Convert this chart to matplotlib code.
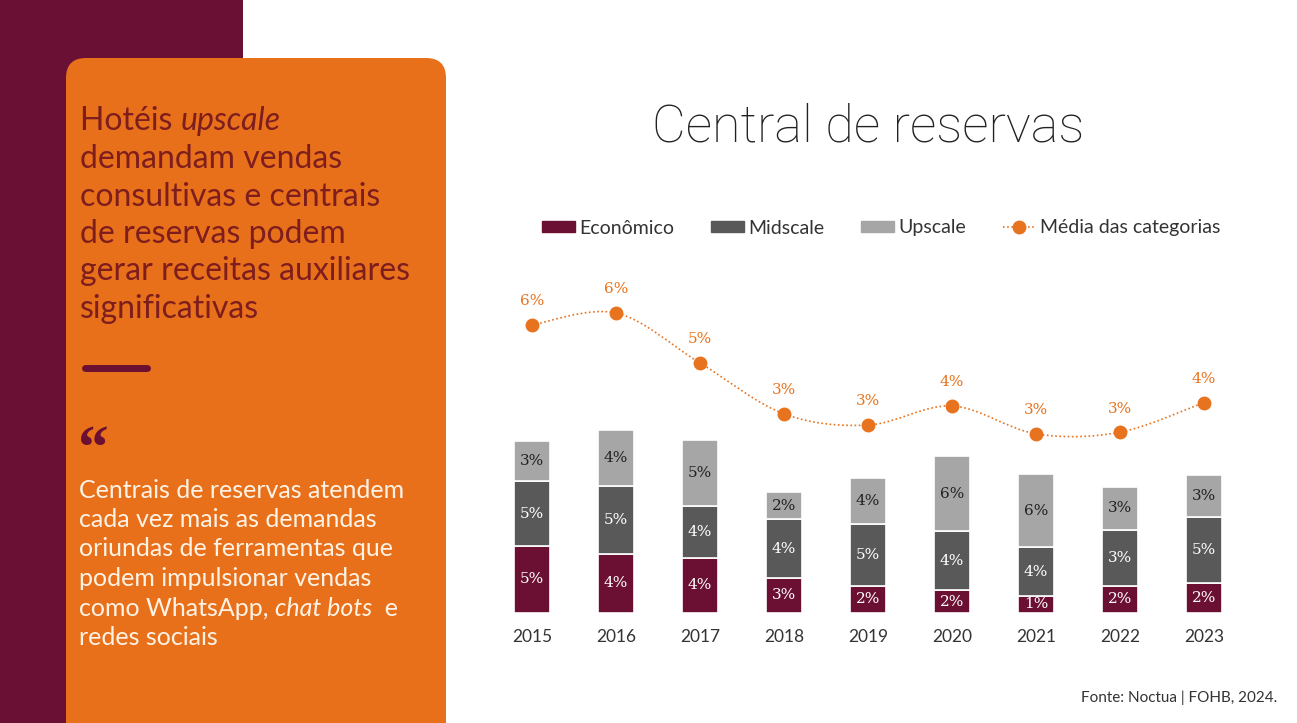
import matplotlib.pyplot as plt
from matplotlib.patches import FancyBboxPatch, Rectangle, PathPatch, Patch
from matplotlib.path import Path
from matplotlib.lines import Line2D
import numpy as np

years = ["2015", "2016", "2017", "2018", "2019", "2020", "2021", "2022", "2023"]
economico = [5.0, 4.36, 4.06, 2.57, 1.99, 1.67, 1.25, 1.99, 2.19]
midscale = [4.8, 5.12, 3.93, 4.4, 4.6, 4.4, 3.63, 4.2, 4.97]
upscale = [3.0, 4.16, 4.9, 2.04, 3.43, 5.62, 5.47, 3.19, 3.11]
eco_lbl = [5, 4, 4, 3, 2, 2, 1, 2, 2]
mid_lbl = [5, 5, 4, 4, 5, 4, 4, 3, 5]
up_lbl = [3, 4, 5, 2, 4, 6, 6, 3, 3]
media = [5.61, 5.9, 4.7, 3.48, 3.21, 3.67, 3.0, 3.04, 3.75]

C_ECO = "#6B1032"
C_MID = "#595959"
C_UP = "#A6A6A6"
C_LINE = "#E8731E"
C_BOX = "#E8701A"
W, H = 1297, 723
hf = "Lato"
slab = "DejaVu Serif"

fig = plt.figure(figsize=(W / 100, H / 100), dpi=100)
fig.patch.set_facecolor("white")
rend = fig.canvas.get_renderer()

# background panel, data units = pixels
bg = fig.add_axes([0, 0, 1, 1])
bg.set_xlim(0, W)
bg.set_ylim(H, 0)
bg.axis("off")
bg.add_patch(Rectangle((0, 0), 243, H, color="#6A1035", lw=0))
bg.add_patch(FancyBboxPatch((66, 58), 380, H + 40, boxstyle="round,pad=0,rounding_size=20",
                            color=C_BOX, lw=0))


def run_text(x0, y, pieces, **kw):
    # write pieces one after the other on a line, some of them in italics
    for txt, italic in pieces:
        t = bg.text(x0, y, txt, va="center", style="italic" if italic else "normal", **kw)
        x0 += t.get_window_extent(rend).width


head_col = "#7D1D1E"
hkw = dict(fontsize=23, family=hf, color=head_col)
run_text(80, 121, [("Hotéis ", False), ("upscale", True)], **hkw)
heading = ["demandam vendas", "consultivas e centrais", "de reservas podem",
           "gerar receitas auxiliares", "significativas"]
for i, line in enumerate(heading):
    bg.text(80, 159 + i * 37.5, line, va="center", **hkw)
bg.plot([85, 147], [368, 368], color=C_ECO, lw=5, solid_capstyle="round")
bg.text(78, 452, "\u201c", fontsize=44, family="Liberation Serif", weight="bold", color=C_ECO,
        va="center")

bkw = dict(fontsize=18, family=hf, color="#FFF3E6")
body = ["Centrais de reservas atendem", "cada vez mais as demandas",
        "oriundas de ferramentas que", "podem impulsionar vendas"]
for i, line in enumerate(body):
    bg.text(79, 490 + i * 29.5, line, va="center", **bkw)
run_text(79, 490 + 4 * 29.5, [("como WhatsApp, ", False), ("chat bots", True), ("  e", False)], **bkw)
bg.text(79, 490 + 5 * 29.5, "redes sociais", va="center", **bkw)

bg.text(868, 128, "Central de reservas", fontsize=37.5, family="Roboto", weight="light",
        color="#222222", ha="center", va="center")
bg.text(1277, 698, "Fonte: Noctua | FOHB, 2024.", fontsize=11, family=hf, color="#333333",
        ha="right", va="center")

# chart axes
ax_l, ax_r = 490, 1246
ax_b, ax_t = 612.7, 260
ax = fig.add_axes([ax_l / W, 1 - ax_b / H, (ax_r - ax_l) / W, (ax_b - ax_t) / H])
ax.patch.set_alpha(0)
x = np.arange(len(years))
bw = 0.44
eco = np.array(economico)
mid = np.array(midscale)
up = np.array(upscale)
ax.bar(x, eco, bw, color=C_ECO, edgecolor="white", lw=1.2)
ax.bar(x, mid, bw, bottom=eco, color=C_MID, edgecolor="white", lw=1.2)
ax.bar(x, up, bw, bottom=eco + mid, color=C_UP, edgecolor="white", lw=1.2)
ax.set_xlim(-0.5, len(years) - 0.5)
ax.set_ylim(0, (ax_b - ax_t) / 13.4)
for i in x:
    ax.text(i, eco[i] / 2, f"{eco_lbl[i]}%", ha="center", va="center", color="white",
            family=slab, fontsize=11)
    ax.text(i, eco[i] + mid[i] / 2, f"{mid_lbl[i]}%", ha="center", va="center", color="white",
            family=slab, fontsize=11)
    ax.text(i, eco[i] + mid[i] + up[i] / 2, f"{up_lbl[i]}%", ha="center", va="center",
            color="#222222", family=slab, fontsize=11)
ax.set_xticks(x)
ax.set_xticklabels(years, family=hf, fontsize=12.5, color="#333333")
ax.tick_params(axis="x", length=0, pad=12)
ax.set_yticks([])
for s in ax.spines.values():
    s.set_visible(False)

ax2 = ax.twinx()
ax2.patch.set_alpha(0)
ax2.set_ylim(-1.29, 7.17)
ax2.set_yticks([])
for s in ax2.spines.values():
    s.set_visible(False)
m = np.array(media)
# smooth dotted curve through the points (Catmull-Rom as cubic Bezier)
verts = [(x[0], m[0])]
codes = [Path.MOVETO]
n = len(x)
for i in range(n - 1):
    p0 = (x[max(i - 1, 0)], m[max(i - 1, 0)])
    p1 = (x[i], m[i])
    p2 = (x[i + 1], m[i + 1])
    p3 = (x[min(i + 2, n - 1)], m[min(i + 2, n - 1)])
    c1 = (p1[0] + (p2[0] - p0[0]) / 6, p1[1] + (p2[1] - p0[1]) / 6)
    c2 = (p2[0] - (p3[0] - p1[0]) / 6, p2[1] - (p3[1] - p1[1]) / 6)
    verts += [c1, c2, p2]
    codes += [Path.CURVE4] * 3
ax2.add_patch(PathPatch(Path(verts, codes), fill=False, edgecolor=C_LINE, lw=1.2,
                        linestyle=(0, (1, 1.5))))
ax2.plot(x, m, "o", color=C_LINE, ms=9, zorder=5)
for i in x:
    ax2.annotate(f"{round(m[i])}%", (x[i], m[i]), xytext=(0, 12), textcoords="offset points",
                 ha="center", va="bottom", color=C_LINE, family=slab, fontsize=11)

handles = [Patch(color=C_ECO), Patch(color=C_MID), Patch(color=C_UP),
           Line2D([], [], color=C_LINE, marker="o", ms=9, ls=(0, (1, 1.5)), lw=1.2)]
fig.legend(handles, ["Econômico", "Midscale", "Upscale", "Média das categorias"],
           loc="center", bbox_to_anchor=(881 / W, 1 - 228 / H), ncol=4, frameon=False,
           prop={"family": hf, "size": 14}, labelcolor="#333333", handlelength=1.7,
           handleheight=0.5, handletextpad=0.2, columnspacing=1.9)

fig.savefig("out.png", dpi=100)
